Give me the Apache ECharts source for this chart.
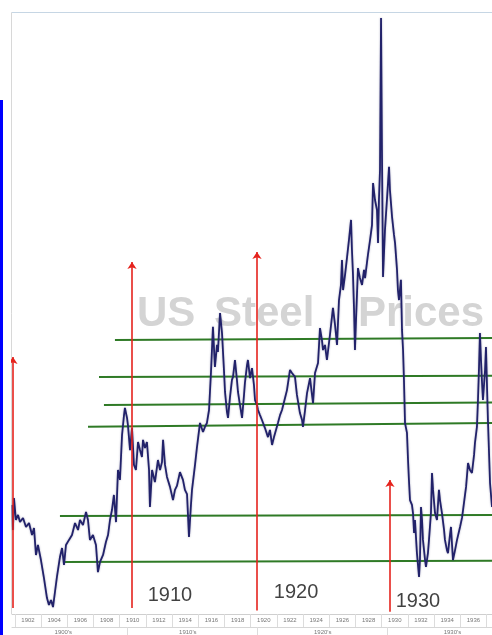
<!DOCTYPE html>
<html>
<head>
<meta charset="utf-8">
<script src="https://cdn.jsdelivr.net/npm/echarts@6/dist/echarts.min.js"></script>
<style>
html,body{margin:0;padding:0;background:#fff;overflow:hidden;}
#chart{width:492px;height:635px;}
</style>
</head>
<body>
<div id="chart"></div>
<script>
// ---- Data ----
const years = [1900.82,1900.85,1900.93,1901.08,1901.24,1901.39,1901.62,1901.85,1902.08,1902.31,1902.46,1902.61,1902.76,1902.99,1903.22,1903.45,1903.60,1903.76,1903.91,1904.06,1904.21,1904.44,1904.60,1904.75,1904.90,1905.13,1905.36,1905.59,1905.82,1905.97,1906.20,1906.43,1906.58,1906.73,1906.96,1907.19,1907.34,1907.50,1907.73,1907.95,1908.11,1908.26,1908.41,1908.56,1908.72,1908.87,1909.02,1909.18,1909.33,1909.40,1909.56,1909.63,1909.79,1909.94,1910.09,1910.24,1910.40,1910.55,1910.70,1910.78,1910.93,1911.08,1911.24,1911.31,1911.47,1911.69,1911.92,1912.08,1912.23,1912.31,1912.46,1912.61,1912.84,1913.07,1913.22,1913.37,1913.60,1913.83,1913.98,1914.14,1914.29,1914.44,1914.52,1914.75,1914.90,1915.13,1915.36,1915.51,1915.66,1915.82,1915.97,1916.12,1916.27,1916.43,1916.50,1916.66,1916.81,1916.96,1917.04,1917.19,1917.27,1917.42,1917.57,1917.65,1917.80,1917.95,1918.03,1918.18,1918.34,1918.49,1918.56,1918.72,1918.79,1918.95,1919.10,1919.25,1919.33,1919.48,1919.56,1919.71,1919.86,1920.09,1920.32,1920.47,1920.63,1920.78,1920.93,1921.08,1921.24,1921.39,1921.62,1921.77,1922.00,1922.15,1922.38,1922.53,1922.76,1922.92,1922.99,1923.15,1923.30,1923.53,1923.68,1923.76,1923.91,1924.14,1924.29,1924.44,1924.52,1924.67,1924.82,1925.05,1925.28,1925.44,1925.59,1925.74,1925.89,1925.97,1926.05,1926.20,1926.35,1926.50,1926.66,1926.73,1926.81,1926.89,1926.96,1927.04,1927.19,1927.34,1927.50,1927.65,1927.73,1927.88,1927.95,1928.11,1928.26,1928.34,1928.49,1928.64,1928.72,1928.79,1928.87,1928.95,1929.02,1929.10,1929.25,1929.40,1929.56,1929.63,1929.79,1929.94,1930.02,1930.17,1930.24,1930.32,1930.47,1930.55,1930.63,1930.70,1930.78,1930.93,1931.01,1931.08,1931.16,1931.31,1931.39,1931.47,1931.54,1931.69,1931.77,1931.85,1931.92,1932.00,1932.08,1932.15,1932.31,1932.38,1932.53,1932.61,1932.76,1932.84,1932.92,1933.07,1933.22,1933.37,1933.45,1933.60,1933.76,1933.83,1933.98,1934.06,1934.21,1934.29,1934.37,1934.44,1934.60,1934.75,1934.98,1935.13,1935.21,1935.36,1935.44,1935.59,1935.74,1935.89,1936.05,1936.12,1936.27,1936.35,1936.43,1936.50,1936.58,1936.66,1936.73,1936.89,1936.96,1937.04,1937.11,1937.27,1937.42];
const prices = [52.1,41.3,55.1,45.6,47.8,44.7,46.5,42.6,44.3,39.1,42.1,30.5,34.8,28.3,20.5,11.9,8.9,11.0,8.0,14.5,21.0,29.6,33.5,26.2,34.8,37.0,39.1,44.3,41.3,45.6,43.4,49.1,45.6,37.0,39.1,34.8,23.1,27.5,30.5,36.1,39.1,45.6,49.9,56.4,44.7,67.2,62.9,82.3,90.9,94.0,89.7,86.6,75.8,85.3,69.4,67.2,79.3,75.8,72.8,80.2,76.7,79.3,67.2,51.2,67.2,62.0,71.5,67.2,70.6,80.2,69.4,64.2,59.9,54.2,58.6,60.3,66.3,62.9,58.6,56.8,38.3,52.1,58.6,69.4,77.1,87.5,83.6,85.8,87.5,93.1,109.5,129.0,111.7,121.2,118.2,135.0,126.4,110.4,100.9,92.2,89.7,98.7,106.1,107.4,114.7,106.1,100.9,95.3,89.7,99.6,104.8,112.5,114.7,106.9,111.2,103.9,97.4,95.3,93.1,90.9,88.8,85.3,81.4,84.5,78.0,81.4,84.5,87.5,90.9,93.1,98.3,101.7,110.4,109.1,107.4,99.6,91.8,88.8,85.8,93.1,100.4,106.9,99.6,96.1,109.1,113.4,128.5,123.3,119.0,121.2,114.7,125.5,137.2,129.8,121.2,140.6,147.1,157.9,144.9,151.4,158.8,166.5,175.2,162.2,151.4,136.3,119.0,132.0,154.4,150.1,147.1,153.6,150.1,157.0,160.1,166.5,173.0,191.1,183.8,179.5,165.2,183.8,196.8,262.4,205.4,150.6,170.9,183.8,198.1,188.1,176.5,168.7,165.2,153.6,144.9,140.6,149.3,127.7,119.0,106.1,87.5,83.2,71.5,62.9,54.2,52.1,48.6,40.0,45.6,31.3,26.2,21.0,28.3,51.2,45.6,37.0,28.3,25.3,31.3,37.0,48.6,65.9,58.6,48.6,45.6,58.6,54.2,48.6,41.3,37.0,32.6,31.3,39.1,42.6,34.8,28.3,32.6,37.0,42.6,46.5,49.9,56.4,59.9,70.2,67.2,65.9,73.7,78.9,85.8,97.4,111.7,126.4,114.7,104.8,97.4,110.4,120.3,103.0,88.8,61.6,51.2];

// Tick labels
const yearLabels = [1902,1904,1906,1908,1910,1912,1914,1916,1918,1920,1922,1924,1926,1928,1930,1932,1934,1936];
const yearSeparators = [1901,1903,1905,1907,1909,1911,1913,1915,1917,1919,1921,1923,1925,1927,1929,1931,1933,1935,1937];
const decadeLabelPos = [1904.7,1914.2,1924.5,1934.4];
const decadeSeparators = [1909.6,1919.5,1929.4];

// Green horizontal levels: start year, price at start, price at right edge
const levelStart = [1908.64,1907.42,1907.80,1906.58,1904.44,1904.67];
const levelLeft  = [123.3,107.4,95.3,85.9,47.3,27.5];
const levelRight = [124.2,107.9,96.3,87.5,47.8,28.0];

// Red arrows: year, top price, bottom price
const arrowYears = [1900.85,1909.94,1919.48,1929.63];
const arrowTop   = [116.0,157.0,161.3,62.9];
const arrowBottom= [7.6,7.6,6.5,6.0];

// Big year annotations
const noteText  = ['1910','1920','1930'];
const noteYear  = [1912.84,1922.46,1931.77];
const notePrice = [13.2,14.5,10.2];

const X_MIN = 1900.78, X_MAX = 1937.42;

const chart = echarts.init(document.getElementById('chart'), null, {renderer:'canvas'});

const lineData = years.map((y,i)=>[y, prices[i]]);
const greenData = levelStart.map((s,i)=>({coords:[[s, levelLeft[i]],[X_MAX, levelRight[i]]]}));
const redData = arrowYears.map((y,i)=>({coords:[[y, arrowBottom[i]],[y, arrowTop[i]]]}));
const noteData = noteText.map((t,i)=>({name:t, value:[noteYear[i], notePrice[i]]}));

const option = {
  animation:false,
  backgroundColor:'#ffffff',
  grid:{left:12, right:0, top:12, bottom:21, show:false},
  xAxis:[{
    type:'value', min:X_MIN, max:X_MAX, position:'bottom',
    axisLine:{show:true, lineStyle:{color:'#cfcfcf', width:1}},
    axisTick:{show:true, customValues:yearSeparators, length:13, lineStyle:{color:'#dcdcdc'}},
    axisLabel:{show:true, customValues:yearLabels, fontSize:6, color:'#777', margin:3, fontFamily:'Liberation Sans', formatter:v=>String(Math.round(v))},
    splitLine:{show:false}
  },{
    type:'value', min:X_MIN, max:X_MAX, position:'bottom', offset:13,
    axisLine:{show:true, lineStyle:{color:'#d6d6d6', width:1}},
    axisTick:{show:true, customValues:decadeSeparators, length:8, lineStyle:{color:'#dcdcdc'}},
    axisLabel:{show:true, customValues:decadeLabelPos, fontSize:6, color:'#777', margin:2, fontFamily:'Liberation Sans', formatter:v=>(Math.floor(v/10)*10)+"'s"},
    splitLine:{show:false}
  }],
  yAxis:{type:'value', min:5, max:265, show:false, splitLine:{show:false}},
  graphic:[
    {type:'rect', shape:{x:0, y:100, width:3, height:535}, style:{fill:'#0000ff'}, z:10},
    {type:'line', shape:{x1:11.5, y1:12.5, x2:492, y2:12.5}, style:{stroke:'#c6d6e4', lineWidth:1}, z:1},
    {type:'line', shape:{x1:11.5, y1:12.5, x2:11.5, y2:614}, style:{stroke:'#d8d8d8', lineWidth:1}, z:1},
    {type:'text', x:137, y:314, z:0, style:{text:'US', font:'bold 42px "Liberation Sans"', fill:'#d4d4d4', verticalAlign:'middle', align:'left'}},
    {type:'text', x:214, y:314, z:0, style:{text:'Steel', font:'bold 42px "Liberation Sans"', fill:'#d4d4d4', verticalAlign:'middle', align:'left'}},
    {type:'text', x:484, y:314, z:0, style:{text:'Prices', font:'bold 42px "Liberation Sans"', fill:'#d4d4d4', verticalAlign:'middle', align:'right'}}
  ],
  series:[
    {
      type:'lines', coordinateSystem:'cartesian2d', z:3, silent:true,
      lineStyle:{color:'#2f7a26', width:2, opacity:1},
      data:greenData
    },
    {
      type:'line', data:lineData, z:4, symbol:'none', smooth:false, silent:true,
      lineStyle:{color:'#22226a', width:1.8, shadowColor:'rgba(70,70,120,0.45)', shadowBlur:2}
    },
    {
      type:'lines', coordinateSystem:'cartesian2d', z:5, silent:true,
      symbol:['none','arrow'], symbolSize:7,
      lineStyle:{color:'#e5231d', width:1.6, opacity:1},
      data:redData
    },
    {
      type:'scatter', data:noteData, z:6, symbolSize:1, silent:true,
      itemStyle:{color:'rgba(0,0,0,0)'},
      label:{show:true, position:'inside', formatter:p=>p.name, fontSize:20, color:'#111', fontFamily:'Liberation Sans'}
    }
  ]
};
chart.setOption(option);
</script>
</body>
</html>
